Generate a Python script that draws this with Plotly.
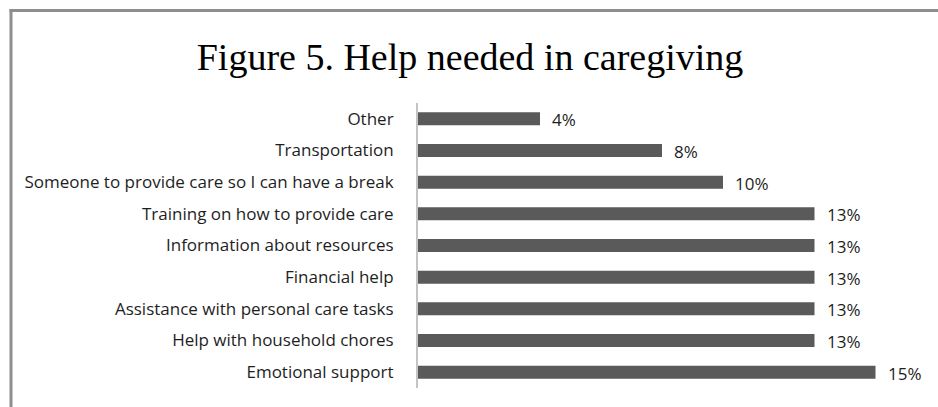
import plotly.graph_objects as go

# Survey responses: share of caregivers naming each kind of help
categories = [
    "Other",
    "Transportation",
    "Someone to provide care so I can have a break",
    "Training on how to provide care",
    "Information about resources",
    "Financial help",
    "Assistance with personal care tasks",
    "Help with household chores",
    "Emotional support",
]
percent = [4, 8, 10, 13, 13, 13, 13, 13, 15]

title_text = "Figure 5. Help needed in caregiving"

W, H = 938, 407
L, R, T, B = 418, 17, 103, 19
pw, ph = W - L - R, H - T - B

label_font = dict(family="Open Sans, sans-serif", size=17, color="#1e1e1e")

fig = go.Figure(
    go.Bar(
        x=percent,
        y=categories,
        orientation="h",
        marker=dict(color="#5a5a5a", line=dict(width=0)),
        width=0.41,
        hoverinfo="skip",
    )
)

# value labels placed just past the end of each bar
for cat, v in zip(categories, percent):
    fig.add_annotation(
        x=v, y=cat, text=f"{v}%", showarrow=False,
        xanchor="left", yanchor="middle", xshift=10, yshift=-1,
        font=label_font,
    )

# frame lines along the top and left edges of the figure
def px_to_paper_x(px):
    return (px - L) / pw

def px_to_paper_y(py):
    return (H - B - py) / ph

border = dict(color="#8e8e8e", width=3)
fig.add_shape(type="line", xref="paper", yref="paper",
              x0=px_to_paper_x(9.5), x1=px_to_paper_x(W + 5),
              y0=px_to_paper_y(10.5), y1=px_to_paper_y(10.5), line=border)
fig.add_shape(type="line", xref="paper", yref="paper",
              x0=px_to_paper_x(11), x1=px_to_paper_x(11),
              y0=px_to_paper_y(9), y1=px_to_paper_y(H + 5), line=border)

fig.update_layout(
    width=W, height=H,
    margin=dict(l=L, r=R, t=T, b=B, pad=0),
    paper_bgcolor="white", plot_bgcolor="white",
    showlegend=False,
    title=dict(
        text=title_text, x=470 / W, xref="container", xanchor="center",
        y=1 - 57 / H, yref="container", yanchor="middle",
        font=dict(family="Liberation Serif, serif", size=38, color="#000000"),
    ),
    xaxis=dict(
        range=[0, pw / 30.5], showgrid=False, zeroline=False,
        showticklabels=False, showline=False, fixedrange=True,
    ),
    yaxis=dict(
        autorange="reversed", showgrid=False, zeroline=False,
        showline=True, linecolor="#c4c4c4", linewidth=2,
        ticks="", ticklabelstandoff=19,
        tickfont=label_font,
    ),
)

fig.write_html("out.html")
